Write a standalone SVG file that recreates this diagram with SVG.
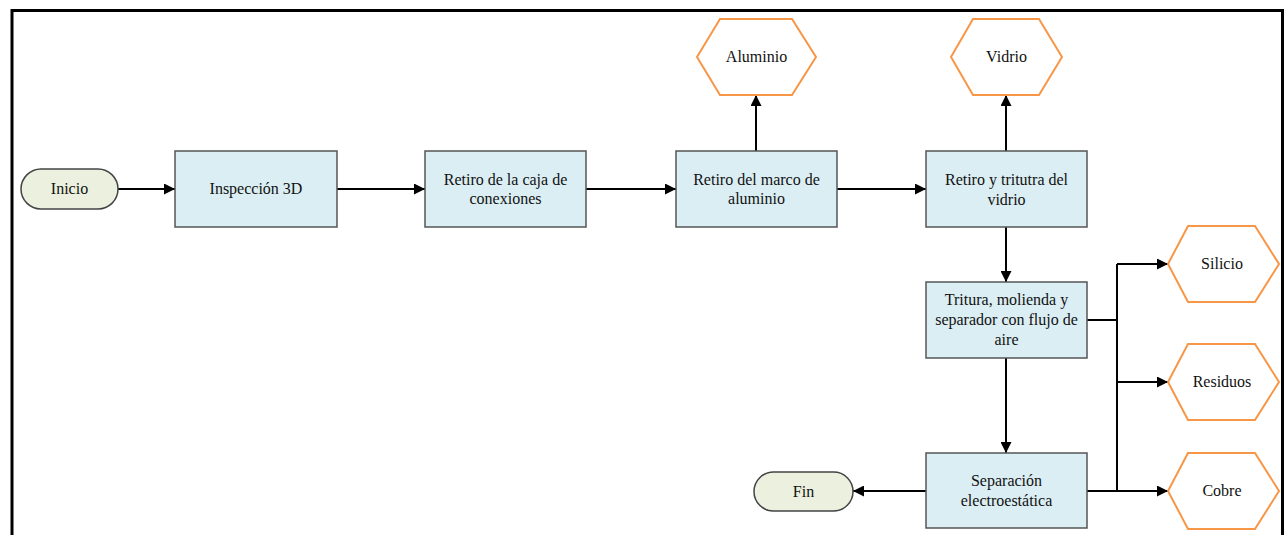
<svg xmlns="http://www.w3.org/2000/svg" width="1288" height="535" viewBox="0 0 1288 535">
<defs>
<style>
.box{fill:#dbeef4;stroke:#555;stroke-width:1.5}
.term{fill:#ebf1de;stroke:#444;stroke-width:1.5}
.hex{fill:#fff;stroke:#f79646;stroke-width:2}
.t{font-size:16px;fill:#111;text-anchor:middle}
.c{fill:none;stroke:#000;stroke-width:2}
</style>
<marker id="a" viewBox="0 0 10 10" refX="10" refY="5" markerWidth="11" markerHeight="11" markerUnits="userSpaceOnUse" orient="auto">
<path d="M0,0 L10,5 L0,10 z" fill="#000"/>
</marker>
</defs>
<rect width="1288" height="535" fill="#fff"/>
<path d="M12,535 V10.5 H1282.5 V535" fill="none" stroke="#000" stroke-width="3"/>
<g id="connectors">
<path class="c" d="M118,189 H175" marker-end="url(#a)"/>
<path class="c" d="M337,189 H425" marker-end="url(#a)"/>
<path class="c" d="M586,189 H676" marker-end="url(#a)"/>
<path class="c" d="M837,189 H926" marker-end="url(#a)"/>
<path class="c" d="M756,151 V95" marker-end="url(#a)"/>
<path class="c" d="M1006,151 V95" marker-end="url(#a)"/>
<path class="c" d="M1006,227 V282" marker-end="url(#a)"/>
<path class="c" d="M1006,358 V453" marker-end="url(#a)"/>
<path class="c" d="M926,491 H853" marker-end="url(#a)"/>
<path class="c" d="M1087,320 H1117"/>
<path class="c" d="M1087,491 H1117"/>
<path class="c" d="M1117,264 V491"/>
<path class="c" d="M1117,264 H1168" marker-end="url(#a)"/>
<path class="c" d="M1117,382 H1168" marker-end="url(#a)"/>
<path class="c" d="M1117,491 H1168" marker-end="url(#a)"/>
</g>
<g font-family="Liberation Serif, DejaVu Serif, serif">
<g id="inicio"><rect class="term" x="21" y="169" width="97" height="40" rx="20"/><text class="t" x="69.5" y="194">Inicio</text></g>
<g id="inspeccion"><rect class="box" x="175" y="151" width="162" height="76"/><text class="t" x="256" y="194">Inspección 3D</text></g>
<g id="caja"><rect class="box" x="425" y="151" width="161" height="76"/><text class="t" x="505.5" y="185">Retiro de la caja de</text><text class="t" x="505.5" y="204">conexiones</text></g>
<g id="marco"><rect class="box" x="676" y="151" width="161" height="76"/><text class="t" x="756.5" y="185">Retiro del marco de</text><text class="t" x="756.5" y="204">aluminio</text></g>
<g id="vidrio-proc"><rect class="box" x="926" y="151" width="161" height="76"/><text class="t" x="1006.5" y="185">Retiro y tritutra del</text><text class="t" x="1006.5" y="205">vidrio</text></g>
<g id="tritura"><rect class="box" x="926" y="282" width="161" height="76"/><text class="t" x="1006.5" y="305">Tritura, molienda y</text><text class="t" x="1006.5" y="325">separador con flujo de</text><text class="t" x="1006.5" y="345">aire</text></g>
<g id="separacion"><rect class="box" x="926" y="453" width="161" height="75"/><text class="t" x="1006.5" y="486">Separación</text><text class="t" x="1006.5" y="506">electroestática</text></g>
<g id="fin"><rect class="term" x="754" y="472" width="99" height="39" rx="19.5"/><text class="t" x="803.5" y="497">Fin</text></g>
<g id="aluminio"><polygon class="hex" points="697,57 720,19 792,19 816,57 792,95 720,95"/><text class="t" x="756.5" y="62">Aluminio</text></g>
<g id="vidrio"><polygon class="hex" points="951,57 973,19 1039,19 1062,57 1039,95 973,95"/><text class="t" x="1006.5" y="62">Vidrio</text></g>
<g id="silicio"><polygon class="hex" points="1168,264 1188,226 1255,226 1279,264 1255,302 1188,302"/><text class="t" x="1222" y="269">Silicio</text></g>
<g id="residuos"><polygon class="hex" points="1168,382 1188,344 1255,344 1279,382 1255,420 1188,420"/><text class="t" x="1222" y="387">Residuos</text></g>
<g id="cobre"><polygon class="hex" points="1168,491 1188,453 1255,453 1279,491 1255,529 1188,529"/><text class="t" x="1222" y="496">Cobre</text></g>
</g>
</svg>
